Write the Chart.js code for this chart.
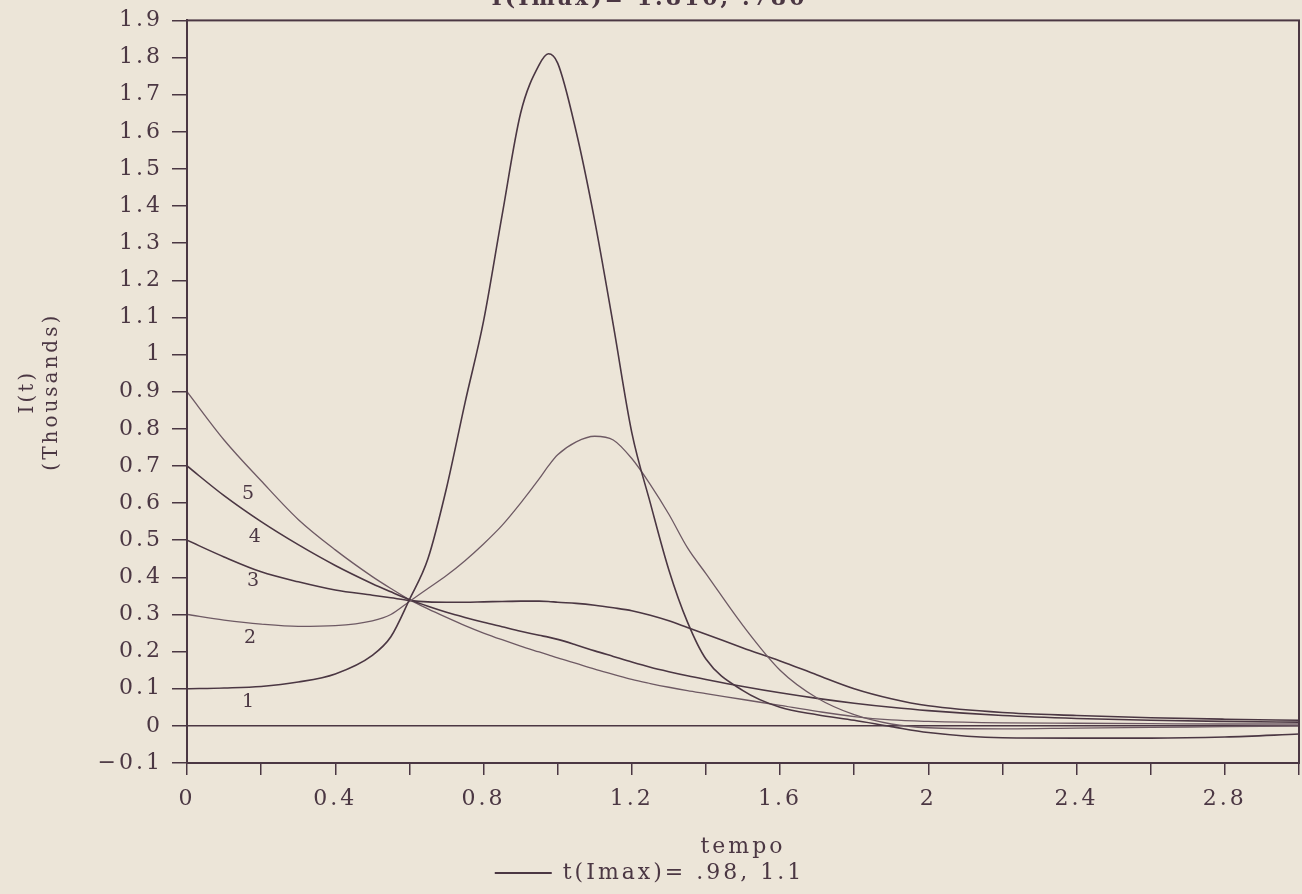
<!DOCTYPE html>
<html lang="pt">
<head>
<meta charset="UTF-8">
<title>I(t) x tempo</title>
<script src="https://cdn.jsdelivr.net/npm/chart.js"></script>
<style>
  html, body { margin: 0; padding: 0; background: #ece5d8; }
  #wrap { position: relative; width: 1302px; height: 894px; overflow: hidden; background: #ece5d8; }
  #grafico { position: absolute; left: 0; top: -14px; }
</style>
</head>
<body>
<div id="wrap">
  <canvas id="grafico" width="1302" height="908"></canvas>
</div>
<script>
// tempo (x) e I(t) em milhares para as 5 curvas
const tempo = [0, 0.1, 0.2, 0.3, 0.4, 0.5, 0.55, 0.6, 0.65, 0.7, 0.75, 0.8, 0.85, 0.9, 0.95, 0.975,
  1.0, 1.05, 1.1, 1.15, 1.2, 1.25, 1.3, 1.35, 1.4, 1.5, 1.6, 1.7, 1.8, 1.9, 2.0, 2.2, 2.4, 2.6, 2.8, 3.0];

const curva1 = [0.100, 0.102, 0.106, 0.118, 0.140, 0.190, 0.240, 0.340, 0.450, 0.640, 0.870, 1.090, 1.375, 1.650, 1.780, 1.810,
  1.785, 1.600, 1.360, 1.080, 0.790, 0.600, 0.420, 0.280, 0.180, 0.095, 0.050, 0.030, 0.015, -0.002, -0.018, -0.032, -0.033, -0.033, -0.030, -0.022];
const curva2 = [0.300, 0.285, 0.274, 0.268, 0.270, 0.283, 0.300, 0.335, 0.370, 0.405, 0.445, 0.490, 0.540, 0.600, 0.665, 0.700,
  0.730, 0.765, 0.780, 0.770, 0.720, 0.650, 0.570, 0.480, 0.410, 0.270, 0.150, 0.075, 0.030, 0.005, -0.005, -0.008, -0.006, -0.004, -0.002, 0.000];
const curva3 = [0.500, 0.455, 0.415, 0.388, 0.366, 0.352, 0.345, 0.338, 0.334, 0.333, 0.333, 0.334, 0.335, 0.336, 0.336, 0.335,
  0.333, 0.330, 0.325, 0.318, 0.310, 0.298, 0.283, 0.265, 0.247, 0.210, 0.175, 0.137, 0.100, 0.073, 0.054, 0.036, 0.028, 0.022, 0.018, 0.015];
const curva4 = [0.700, 0.620, 0.550, 0.488, 0.432, 0.383, 0.361, 0.340, 0.322, 0.306, 0.292, 0.279, 0.267, 0.255, 0.244, 0.239,
  0.233, 0.218, 0.202, 0.187, 0.172, 0.158, 0.146, 0.135, 0.125, 0.106, 0.089, 0.074, 0.061, 0.050, 0.041, 0.028, 0.020, 0.015, 0.012, 0.010];
const curva5 = [0.900, 0.770, 0.660, 0.556, 0.474, 0.402, 0.370, 0.340, 0.315, 0.292, 0.270, 0.250, 0.232, 0.215, 0.199, 0.191,
  0.183, 0.168, 0.153, 0.139, 0.125, 0.114, 0.104, 0.095, 0.087, 0.071, 0.055, 0.039, 0.025, 0.016, 0.012, 0.008, 0.007, 0.006, 0.005, 0.005];

// rotulos das curvas (numero, tempo, valor)
const rotulos = ['1', '2', '3', '4', '5'];
const rotuloT = [0.165, 0.17, 0.178, 0.183, 0.165];
const rotuloV = [0.065, 0.237, 0.39, 0.509, 0.625];

const titulo = 'I(Imax)= 1.810, .780';
const legenda = 't(Imax)= .98, 1.1';

const INK = '#4b3743';
const FONTE = '"DejaVu Serif", "Liberation Serif", serif';
const ESPACO = '3px';
const DESLOC = 14;          // canvas sobe 14px (titulo cortado no topo)
const BASE_PLOT = 763;      // linha do eixo x na tela

const curvas = [curva1, curva2, curva3, curva4, curva5];

function fmtY(v) {
  const r = Math.round(v * 10) / 10;
  if (Math.abs(r) < 1e-9) return '0';
  let s = Number.isInteger(r) ? String(r) : r.toFixed(1);
  if (r < 0) s = '\u2212' + s.slice(1);
  return s;
}

function fmtX(v) {
  const r = Math.round(v * 10) / 10;
  const k = Math.round(r * 10);
  if (k % 4 !== 0 || r > 2.95) return '';
  return Number.isInteger(r) ? String(r) : r.toFixed(1);
}

// letras espacadas como na impressora
const espacamento = {
  id: 'espacamento',
  beforeUpdate(chart) { chart.ctx.letterSpacing = ESPACO; },
  beforeDraw(chart) { chart.ctx.letterSpacing = ESPACO; }
};

// moldura em volta da area do grafico
const moldura = {
  id: 'moldura',
  afterDatasetsDraw(chart) {
    const { ctx, chartArea: a } = chart;
    ctx.save();
    ctx.strokeStyle = INK;
    ctx.lineWidth = 2;
    ctx.strokeRect(a.left, a.top, a.right - a.left, a.bottom - a.top);
    ctx.restore();
  }
};

// numeros 1..5 junto das curvas
const numeros = {
  id: 'numeros',
  afterDatasetsDraw(chart) {
    const { ctx } = chart;
    const xs = chart.scales.x, ys = chart.scales.y;
    ctx.save();
    ctx.letterSpacing = '0px';
    ctx.fillStyle = INK;
    ctx.font = '19px ' + FONTE;
    ctx.textAlign = 'center';
    ctx.textBaseline = 'middle';
    rotulos.forEach((r, i) => {
      ctx.fillText(r, xs.getPixelForValue(rotuloT[i]), ys.getPixelForValue(rotuloV[i]));
    });
    ctx.restore();
  }
};

const ctx = document.getElementById('grafico').getContext('2d');

new Chart(ctx, {
  type: 'line',
  data: {
    datasets: curvas.map((c, i) => ({
      label: rotulos[i],
      data: tempo.map((t, j) => ({ x: t, y: c[j] })),
      borderColor: (i === 1 || i === 4) ? '#6e5a64' : INK,
      borderWidth: (i === 1 || i === 4) ? 1.3 : 1.6,
      pointRadius: 0,
      cubicInterpolationMode: 'monotone',
      fill: false
    }))
  },
  options: {
    responsive: false,
    devicePixelRatio: 1,
    animation: false,
    layout: { padding: { left: 0, right: 3, top: 0, bottom: 0 } },
    plugins: {
      title: {
        display: true,
        text: titulo,
        color: INK,
        font: { family: FONTE, size: 22 },
        padding: { top: 0, bottom: 8 }
      },
      legend: {
        position: 'bottom',
        labels: {
          color: INK,
          font: { family: FONTE, size: 22 },
          boxWidth: 57,
          boxHeight: 2,
          padding: 2,
          generateLabels: () => [{
            text: legenda, fillStyle: INK, strokeStyle: INK, fontColor: INK, lineWidth: 0, hidden: false, datasetIndex: 0
          }]
        },
        onClick: null
      },
      tooltip: { enabled: false }
    },
    scales: {
      x: {
        type: 'linear',
        min: 0,
        max: 3,
        afterFit(scale) {
          scale.paddingRight = 0;
          scale.paddingLeft = 0;
          scale.height = scale.chart.height - (BASE_PLOT + DESLOC) - scale.chart.legend.height;
        },
        border: { display: true, color: INK, width: 2 },
        grid: { drawOnChartArea: false, drawTicks: true, tickLength: 12, color: INK, tickColor: INK, lineWidth: 1.5 },
        ticks: {
          stepSize: 0.2,
          autoSkip: false,
          maxRotation: 0,
          padding: 11,
          color: INK,
          font: { family: FONTE, size: 22 },
          callback: fmtX
        },
        title: {
          display: true,
          text: 'tempo',
          color: INK,
          font: { family: FONTE, size: 22 },
          padding: { top: 0, bottom: 0 }
        }
      },
      y: {
        min: -0.1,
        max: 1.9,
        afterFit(scale) { scale.width = 187; },
        border: { display: true, color: INK, width: 2 },
        grid: {
          drawOnChartArea: true,
          drawTicks: true,
          tickLength: 15,
          tickColor: INK,
          lineWidth: 1.5,
          color: c => (c.tick && Math.abs(c.tick.value) < 1e-9) ? INK : 'rgba(0,0,0,0)'
        },
        ticks: {
          stepSize: 0.1,
          autoSkip: false,
          padding: 9,
          color: INK,
          font: { family: FONTE, size: 22 },
          callback: fmtY
        },
        title: {
          display: true,
          text: ['I(t)', '(Thousands)'],
          color: INK,
          font: { family: FONTE, size: 20 },
          padding: { top: 16, bottom: 0 }
        }
      }
    }
  },
  plugins: [espacamento, moldura, numeros]
});
</script>
</body>
</html>
